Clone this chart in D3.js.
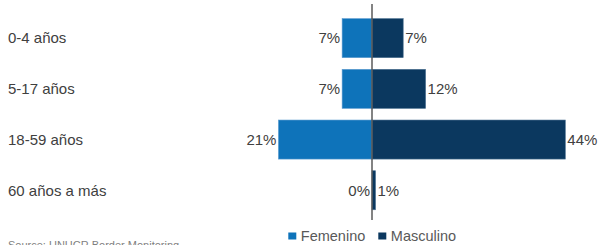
<!DOCTYPE html>
<html><head><meta charset="utf-8">
<script src="https://cdn.jsdelivr.net/npm/d3@7"></script>
<style>body{margin:0;background:#fff}svg{display:block}</style>
</head><body>
<svg id="c" width="599" height="245"></svg>
<script>
const categories = ["0-4 años","5-17 años","18-59 años","60 años a más"];
const femenino = [6.8, 6.8, 21.3, 0];
const masculino = [7.1, 12.2, 44, 0.8];
const femLabels = ["7%","7%","21%","0%"];
const mascLabels = ["7%","12%","44%","1%"];
const seriesNames = ["Femenino","Masculino"];
const colors = ["#0E73BA","#0B385F"];

const svg = d3.select("#c");
const font = "Liberation Sans, Arial, sans-serif";
const x = d3.scaleLinear().domain([0,44]).range([372,565.3]);
const xl = d3.scaleLinear().domain([0,44]).range([372,178.7]);
const y = d3.scaleBand().domain(categories).range([12.8,215.6]).paddingInner(0.23).paddingOuter(0.115);

categories.forEach((c,i)=>{
  svg.append("rect").attr("x",xl(femenino[i])).attr("y",y(c)).attr("width",x(0)-xl(femenino[i]))
    .attr("height",y.bandwidth()).attr("fill",colors[0]).attr("stroke","#5b9bd0").attr("stroke-width",0.6);
  svg.append("rect").attr("x",x(0)).attr("y",y(c)).attr("width",x(masculino[i])-x(0))
    .attr("height",y.bandwidth()).attr("fill",colors[1]).attr("stroke","#4a6f90").attr("stroke-width",0.6);
  const cy = y(c)+y.bandwidth()/2;
  svg.append("text").attr("x",8).attr("y",cy).attr("dy","0.35em").attr("font-family",font)
    .attr("font-size",15).attr("fill","#404040").text(c);
  svg.append("text").attr("x",xl(femenino[i])-2).attr("y",cy).attr("dy","0.35em").attr("text-anchor","end")
    .attr("font-family",font).attr("font-size",15).attr("fill","#404040").text(femLabels[i]);
  svg.append("text").attr("x",x(masculino[i])+2).attr("y",cy).attr("dy","0.35em")
    .attr("font-family",font).attr("font-size",15).attr("fill","#404040").text(mascLabels[i]);
});

svg.append("line").attr("x1",x(0)).attr("x2",x(0)).attr("y1",4).attr("y2",220)
  .attr("stroke","#5a5a5a").attr("stroke-width",1.5);

// legend
const leg = [{n:seriesNames[0],c:colors[0],x:288.3},{n:seriesNames[1],c:colors[1],x:378.3}];
leg.forEach(l=>{
  svg.append("rect").attr("x",l.x).attr("y",232.5).attr("width",8).attr("height",7).attr("fill",l.c);
  svg.append("text").attr("x",l.x+12.5).attr("y",236).attr("dy","0.35em").attr("font-family",font)
    .attr("font-size",14.5).attr("fill","#595959").text(l.n);
});

svg.append("text").attr("x",8).attr("y",249).attr("font-family",font).attr("font-size",11)
  .attr("fill","#808080").text("Source: UNHCR Border Monitoring");
</script>
</body></html>
